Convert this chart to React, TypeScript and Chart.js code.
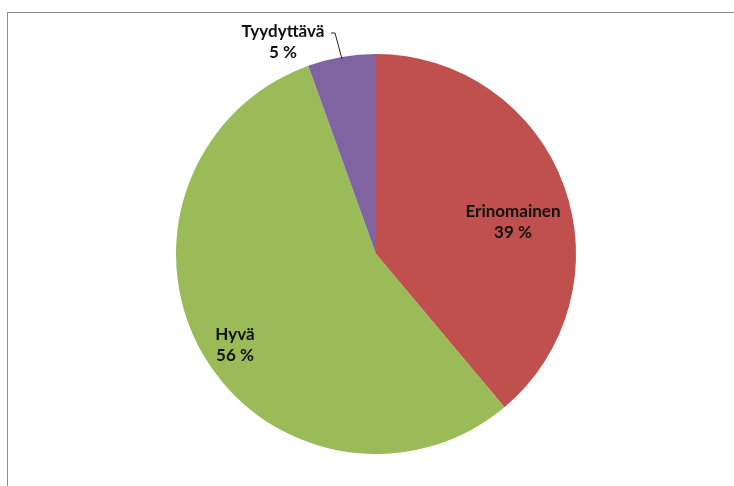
import React, { useEffect, useRef } from "react";
import { Chart, registerables } from "chart.js";

Chart.register(...registerables);

const categories = ["Erinomainen", "Hyvä", "Tyydyttävä"];
const values = [38.9, 55.6, 5.5];
const percentLabels = ["39 %", "56 %", "5 %"];
const colors = ["#C0504D", "#9BBB59", "#8064A2"];

// label anchors relative to pie centre, in units of radius
const labelAnchors = [
  { x: 0.685, y: -0.16 },
  { x: -0.705, y: 0.455 },
  { x: -0.465, y: -1.06 },
];

const labelPlugin = {
  id: "sliceLabels",
  afterDraw(chart: any) {
    const meta = chart.getDatasetMeta(0);
    const ctx = chart.ctx;
    ctx.save();
    ctx.font = "bold 17px Lato, 'Open Sans', sans-serif";
    ctx.fillStyle = "#111";
    ctx.textAlign = "center";
    ctx.textBaseline = "middle";
    meta.data.forEach((arc: any, i: number) => {
      const cx = arc.x;
      const cy = arc.y;
      const r = arc.outerRadius;
      const ax = cx + labelAnchors[i].x * r;
      const ay = cy + labelAnchors[i].y * r;
      ctx.fillText(categories[i], ax, ay - 10.5);
      ctx.fillText(percentLabels[i], ax, ay + 10.5);
      if (i === 2) {
        const mid = (arc.startAngle + arc.endAngle) / 2;
        const ex = cx + Math.cos(mid) * r * 0.99;
        const ey = cy + Math.sin(mid) * r * 0.99;
        ctx.strokeStyle = "#222";
        ctx.lineWidth = 1;
        ctx.beginPath();
        ctx.moveTo(ax + 48, ay - 9);
        ctx.lineTo(ax + 52, ay - 9);
        ctx.lineTo(ex, ey);
        ctx.stroke();
      }
    });
    ctx.restore();
  },
};

export default function App() {
  const ref = useRef<HTMLCanvasElement>(null);
  useEffect(() => {
    if (!ref.current) return;
    const chart = new Chart(ref.current, {
      type: "pie",
      data: {
        labels: categories,
        datasets: [
          {
            data: values,
            backgroundColor: colors,
            borderWidth: 0,
          },
        ],
      },
      options: {
        responsive: false,
        animation: false,
        layout: { padding: { top: 54, bottom: 32, left: 176, right: 158 } },
        plugins: { legend: { display: false }, tooltip: { enabled: false } },
      },
      plugins: [labelPlugin],
    });
    return () => chart.destroy();
  }, []);
  return (
    <div style={{ position: "fixed", left: 0, top: 0, width: 734, height: 486, background: "#fff" }}>
      <div
        style={{
          position: "absolute",
          left: 7,
          top: 12,
          width: 727,
          height: 474,
          borderTop: "1.5px solid #8f8f8f",
          borderLeft: "1.5px solid #8f8f8f",
          boxSizing: "border-box",
        }}
      />
      <canvas ref={ref} width={734} height={486} style={{ position: "absolute", left: 0, top: 0 }} />
    </div>
  );
}
